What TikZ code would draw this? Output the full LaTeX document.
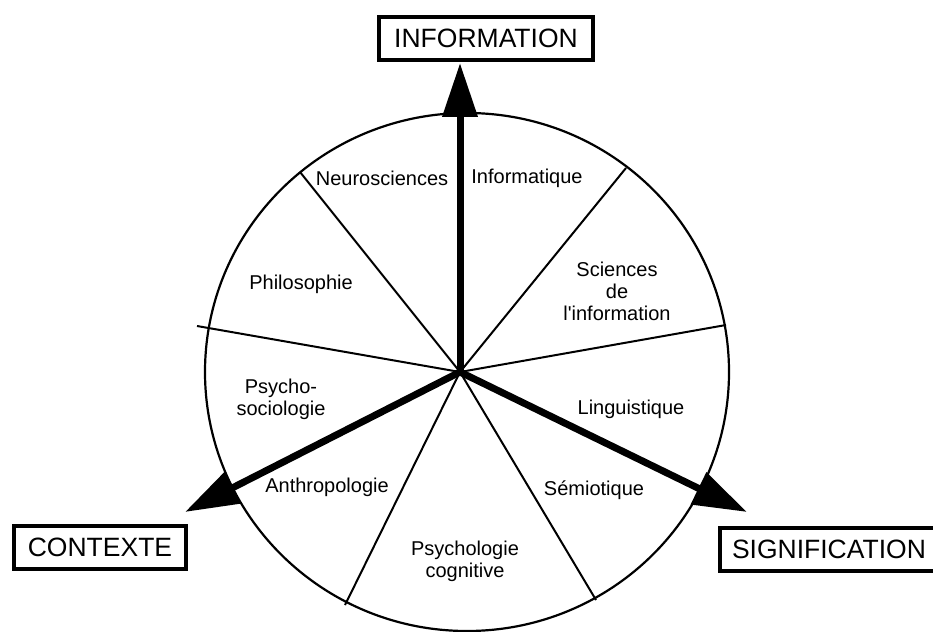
\documentclass[tikz,border=0pt]{standalone}
\usepackage{fontspec}
\setmainfont{Liberation Sans}
\usetikzlibrary{positioning, arrows.meta}
\tikzset{
    field/.style={align=center, font=\fontsize{20}{22}\selectfont, inner sep=0pt},
    axisbox/.style={draw, line width=4pt, align=center, font=\fontsize{26.5}{30}\selectfont, minimum height=43pt, inner xsep=12pt},
    spoke/.style={line width=2pt},
    rim/.style={line width=2.2pt},
    axis/.style={line width=7pt, -{Triangle[length=54pt, width=34pt]}}
}

\begin{document}
\begin{tikzpicture}[x=1pt, y=-1pt]
    \useasboundingbox (0,0) rectangle (933,631);

    % Wheel and spokes
    \coordinate (hub) at (460,372);
    \draw [rim] (467,372) ellipse [x radius=262pt, y radius=259pt];
    \coordinate (s1) at (300,172);
    \coordinate (s2) at (626,168);
    \coordinate (s3) at (726,325);
    \coordinate (s4) at (197,326);
    \coordinate (s5) at (596,600);
    \coordinate (s6) at (345,605);
    \foreach \s in {s1,s2,s3,s4,s5,s6}
        \draw [spoke] (hub) -- (\s);

    % Axes
    \coordinate (tipinfo) at (460,63);
    \coordinate (tipctx) at (185,512);
    \coordinate (tipsig) at (747,512);
    \draw [axis] (hub) -- (tipinfo);
    \draw [axis] (hub) -- (tipctx);
    \draw [axis] (hub) -- (tipsig);

    % Axis boxes
    \node [axisbox, minimum width=214pt] (info) at (486,38.5) {INFORMATION};
    \node [axisbox, minimum width=172pt] (ctx) at (100,547.5) {CONTEXTE};
    \node [axisbox, anchor=west, text width=210pt, align=left] (sig) at (718,549.5) {SIGNIFICATION};

    % Fields
    \node [field] (neuro) at (382,178) {Neurosciences};
    \node [field] (infq) at (527,178) {Informatique};
    \node [field] (scinf) at (617,291) {Sciences\\de\\l\textquotesingle information};
    \node [field] (philo) at (301,284) {Philosophie};
    \node [field] (ling) at (631,409) {Linguistique};
    \node [field] (semio) at (594,490) {Sémiotique};
    \node [field] (psoc) at (281,399) {Psycho-\\sociologie};
    \node [field] (anthro) at (327,487) {Anthropologie};
    \node [field] (pcog) at (465,561) {Psychologie\\cognitive};
\end{tikzpicture}
\end{document}
